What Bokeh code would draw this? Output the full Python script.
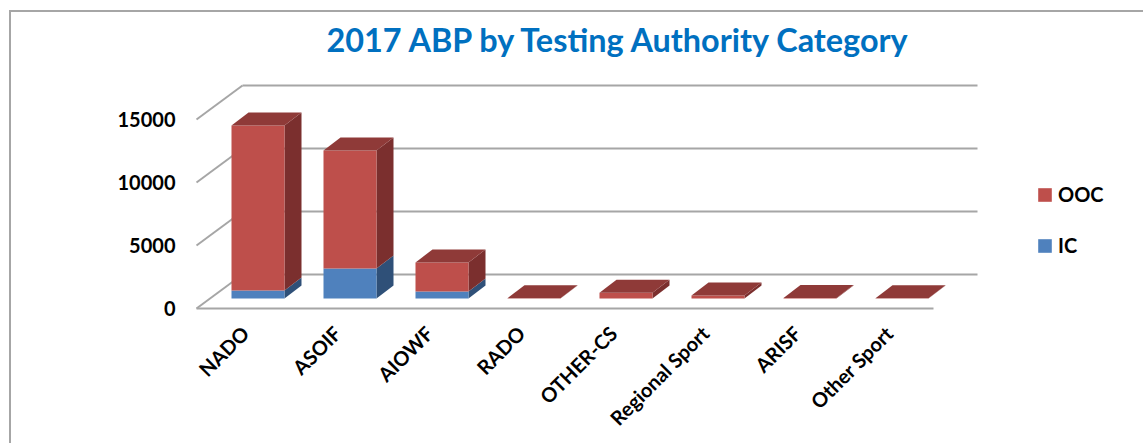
from bokeh.plotting import figure
from bokeh.models import Range1d, FixedTicker, Legend, LegendItem, Title, InlineStyleSheet
from bokeh.embed import file_html
from bokeh.resources import INLINE

categories = ["NADO", "ASOIF", "AIOWF", "RADO", "OTHER-CS", "Regional Sport", "ARISF", "Other Sport"]
ic_values = [630, 2380, 550, 0, 0, 0, 0, 0]
ooc_values = [13100, 9370, 2310, 20, 450, 230, 40, 20]
y_ticks = [0, 5000, 10000, 15000]

RED, RED_TOP, RED_SIDE = "#BE4F4B", "#8F3A38", "#7B2F2E"
BLUE, BLUE_SIDE = "#4F81BD", "#2F5078"
GRID = "#A6A6A6"
LABEL_FONT = "Lato"

PX_X = 92.0          # pixels per category
PX_Y = 0.0126        # pixels per value unit
BAR_W = 53 / PX_X
DEPTH_X = 17 / PX_X
DEPTH_Y = 13 / PX_Y
BASE_Y = 10 / PX_Y   # bars stand part-way into the floor
FLOOR_X = 46 / PX_X
FLOOR_Y = 34 / PX_Y

p = figure(width=1143, height=443, output_backend="svg", toolbar_location=None,
           x_range=Range1d((186 - 257.5) / PX_X, (1143 - 257.5) / PX_X),
           y_range=Range1d(-6 / PX_Y, 250 / PX_Y),
           min_border_left=186, min_border_right=0, min_border_bottom=129, min_border_top=58,
           outline_line_color=None, background_fill_color="white", border_fill_alpha=0,
           background_fill_alpha=0)
p.grid.visible = False

# page frame behind the chart
p.stylesheets = [InlineStyleSheet(css=":host{background:"
                                      f"linear-gradient({GRID},{GRID}) 9px 10px/100% 2px no-repeat,"
                                      f"linear-gradient({GRID},{GRID}) 9px 10px/2px 100% no-repeat;"
                                      "}")]

p.title = Title(text="2017 ABP by Testing Authority Category", text_color="#0070C0",
                text_font=LABEL_FONT, text_font_size="32.4px", text_font_style="bold",
                align="left", offset=140, standoff=0)

# y axis
p.yaxis.ticker = FixedTicker(ticks=y_ticks)
p.yaxis.axis_line_color = None
p.yaxis.major_tick_line_color = None
p.yaxis.minor_tick_line_color = None
p.yaxis.major_label_standoff = 5
p.yaxis.major_label_text_font = LABEL_FONT
p.yaxis.major_label_text_font_size = "20px"
p.yaxis.major_label_text_font_style = "bold"
p.yaxis.major_label_text_color = "black"

# x axis
label_shift = -0.14
p.xaxis.ticker = FixedTicker(ticks=[i + label_shift for i in range(len(categories))])
p.xaxis.major_label_overrides = {i + label_shift: c for i, c in enumerate(categories)}
p.xaxis.major_label_orientation = 0.785
p.xaxis.axis_line_color = None
p.xaxis.major_tick_line_color = None
p.xaxis.minor_tick_line_color = None
p.xaxis.major_label_standoff = 9
p.xaxis.major_label_text_font = LABEL_FONT
p.xaxis.major_label_text_font_size = "20px"
p.xaxis.major_label_text_font_style = "bold"
p.xaxis.major_label_text_color = "black"

# walls and floor
back_l = (242 - 257.5) / PX_X
back_r = (977 - 257.5) / PX_X
front_l = back_l - FLOOR_X
front_r = (933 - 257.5) / PX_X
xs = [[back_l, back_r] for _ in y_ticks] + [[front_l, back_l] for _ in y_ticks] + [[front_l, front_r]]
ys = [[t + FLOOR_Y, t + FLOOR_Y] for t in y_ticks] + [[t, t + FLOOR_Y] for t in y_ticks] + [[0, 0]]
p.multi_line(xs, ys, line_color=GRID, line_width=2)


def faces(bottoms, tops):
    front_x, front_y, side_x, side_y, top_x, top_y = [], [], [], [], [], []
    for i, (b, t) in enumerate(zip(bottoms, tops)):
        l, r = i - BAR_W / 2, i + BAR_W / 2
        b0, t0 = b + BASE_Y, t + BASE_Y
        front_x.append([l, r, r, l])
        front_y.append([b0, b0, t0, t0])
        side_x.append([r, r + DEPTH_X, r + DEPTH_X, r])
        side_y.append([b0, b0 + DEPTH_Y, t0 + DEPTH_Y, t0])
        top_x.append([l, r, r + DEPTH_X, l + DEPTH_X])
        top_y.append([t0, t0, t0 + DEPTH_Y, t0 + DEPTH_Y])
    return front_x, front_y, side_x, side_y, top_x, top_y


totals = [a + b for a, b in zip(ic_values, ooc_values)]
ic_f = faces([0] * len(ic_values), ic_values)
ooc_f = faces(ic_values, totals)

p.patches(ic_f[2], ic_f[3], fill_color=BLUE_SIDE, line_color=None)
ic_r = p.patches(ic_f[0], ic_f[1], fill_color=BLUE, line_color=None)
p.patches(ooc_f[2], ooc_f[3], fill_color=RED_SIDE, line_color=None)
ooc_r = p.patches(ooc_f[0], ooc_f[1], fill_color=RED, line_color=None)
p.patches(ooc_f[4], ooc_f[5], fill_color=RED_TOP, line_color=None)

legend = Legend(items=[LegendItem(label="OOC", renderers=[ooc_r]), LegendItem(label="IC", renderers=[ic_r])],
                location=(850, 57), padding=0, margin=0, spacing=27,
                border_line_color=None, background_fill_alpha=0,
                glyph_width=17, glyph_height=17, label_standoff=5,
                label_text_font=LABEL_FONT, label_text_font_size="20px",
                label_text_font_style="bold", label_text_color="black")
p.add_layout(legend)

open("out.html", "w").write(file_html(p, INLINE))
